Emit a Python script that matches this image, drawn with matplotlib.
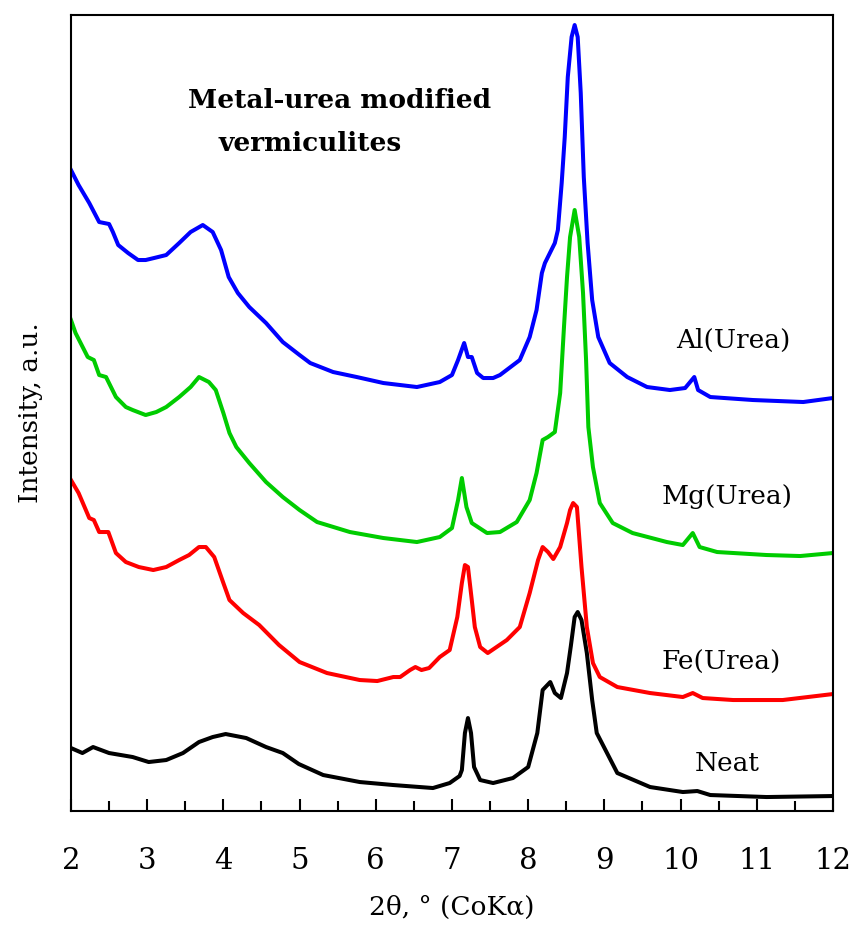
import matplotlib
matplotlib.use('Agg')
import matplotlib.pyplot as plt

plt.rcParams['font.family'] = 'DejaVu Serif'

# 2theta (deg) and intensity (a.u., curves already offset for stacking)
al_2theta = [2.00, 2.10, 2.24, 2.37, 2.50, 2.55, 2.62, 2.75, 2.88, 2.98, 3.09, 3.25, 3.42, 3.57,
             3.73, 3.86, 3.97, 4.07, 4.19, 4.34, 4.56, 4.78, 5.00, 5.14, 5.44, 5.75, 6.10, 6.54,
             6.84, 7.00, 7.08, 7.16, 7.21, 7.26, 7.33, 7.41, 7.54, 7.63, 7.89, 8.02, 8.11, 8.18,
             8.22, 8.35, 8.39, 8.44, 8.48, 8.52, 8.57, 8.61, 8.65, 8.69, 8.73, 8.78, 8.84, 8.92,
             9.07, 9.30, 9.56, 9.86, 10.06, 10.18, 10.23, 10.39, 10.95, 11.61, 12.00]
al_int = [641, 626, 608, 589, 587, 579, 566, 558, 551, 551, 553, 556, 568, 579,
          586, 579, 561, 534, 518, 504, 488, 469, 456, 448, 439, 434, 428, 424,
          429, 436, 451, 468, 454, 454, 438, 433, 433, 436, 451, 474, 501, 538,
          548, 568, 581, 628, 674, 734, 774, 786, 774, 718, 634, 568, 511, 474,
          448, 434, 424, 421, 423, 434, 421, 414, 411, 409, 413]

mg_2theta = [2.00, 2.06, 2.22, 2.30, 2.37, 2.46, 2.59, 2.72, 2.81, 2.98, 3.12, 3.25, 3.42, 3.57,
             3.68, 3.81, 3.90, 4.00, 4.08, 4.17, 4.34, 4.56, 4.78, 5.00, 5.23, 5.66, 6.10, 6.54,
             6.84, 7.00, 7.08, 7.13, 7.19, 7.26, 7.46, 7.63, 7.85, 8.02, 8.11, 8.19, 8.26, 8.35,
             8.42, 8.47, 8.51, 8.55, 8.61, 8.67, 8.72, 8.76, 8.79, 8.85, 8.94, 9.11, 9.37, 9.82,
             10.03, 10.16, 10.25, 10.48, 11.13, 11.57, 12.00]
mg_int = [491, 478, 454, 451, 436, 434, 414, 404, 401, 396, 399, 404, 414, 424,
          434, 429, 421, 398, 378, 364, 348, 329, 314, 301, 289, 279, 273, 269,
          274, 283, 311, 333, 304, 288, 278, 279, 289, 311, 338, 371, 374, 379,
          418, 484, 534, 574, 601, 574, 518, 451, 384, 344, 308, 288, 278, 269,
          266, 278, 264, 259, 256, 255, 258]

fe_2theta = [2.00, 2.10, 2.24, 2.30, 2.37, 2.49, 2.59, 2.72, 2.89, 3.08, 3.25, 3.42, 3.55, 3.68,
             3.77, 3.88, 4.00, 4.08, 4.26, 4.47, 4.73, 5.00, 5.36, 5.79, 6.02, 6.23, 6.32, 6.45,
             6.52, 6.60, 6.70, 6.84, 6.97, 7.07, 7.13, 7.17, 7.21, 7.26, 7.30, 7.37, 7.47, 7.72,
             7.89, 8.02, 8.13, 8.19, 8.26, 8.33, 8.42, 8.51, 8.55, 8.59, 8.64, 8.70, 8.77, 8.85,
             8.94, 9.17, 9.60, 10.03, 10.16, 10.29, 10.69, 11.34, 12.00]
fe_int = [331, 318, 293, 291, 279, 279, 258, 249, 244, 241, 244, 251, 256, 264,
          264, 254, 228, 211, 198, 186, 166, 149, 138, 131, 130, 134, 134, 141,
          144, 141, 143, 154, 161, 194, 228, 246, 244, 211, 184, 164, 158, 171,
          184, 218, 251, 264, 259, 252, 264, 288, 301, 308, 304, 244, 184, 148,
          134, 124, 118, 114, 118, 113, 111, 111, 117]

neat_2theta = [2.00, 2.15, 2.29, 2.50, 2.81, 3.02, 3.25, 3.47, 3.68, 3.86, 4.03, 4.30, 4.56, 4.78,
               4.99, 5.31, 5.79, 6.23, 6.75, 6.97, 7.10, 7.13, 7.17, 7.21, 7.25, 7.29, 7.37, 7.54,
               7.80, 8.00, 8.12, 8.19, 8.29, 8.35, 8.43, 8.51, 8.56, 8.61, 8.65, 8.70, 8.77, 8.84,
               8.90, 9.17, 9.60, 10.03, 10.22, 10.39, 11.13, 12.00]
neat_int = [63, 58, 64, 58, 54, 49, 51, 58, 69, 74, 77, 73, 64, 58,
            47, 36, 29, 26, 23, 28, 35, 41, 78, 93, 78, 44, 31, 28,
            33, 44, 78, 121, 129, 118, 113, 138, 165, 194, 199, 191, 158, 111,
            78, 38, 24, 19, 20, 16, 14, 15]

fig = plt.figure(figsize=(8.51, 9.27), dpi=100)
ax = fig.add_axes([0.0834, 0.1251, 0.8954, 0.8587])

lw = 2.9
ax.plot(neat_2theta, neat_int, color='black', lw=lw, solid_joinstyle='round')
ax.plot(fe_2theta, fe_int, color='#ff0000', lw=lw, solid_joinstyle='round')
ax.plot(mg_2theta, mg_int, color='#00cc00', lw=lw, solid_joinstyle='round')
ax.plot(al_2theta, al_int, color='#0000ff', lw=lw, solid_joinstyle='round')

ax.set_xlim(2, 12)
ax.set_ylim(0, 796)
ax.set_xticks(range(2, 13))
ax.set_xticks([i + 0.5 for i in range(2, 12)], minor=True)
ax.set_yticks([])
ax.tick_params(axis='x', which='major', direction='in', length=9, width=1.5,
               labelsize=21, pad=26)
ax.tick_params(axis='x', which='minor', direction='in', length=7, width=1.5)
for s in ax.spines.values():
    s.set_linewidth(1.5)

ax.set_xlabel('2θ, ° (CoKα)', fontsize=19, labelpad=14)
ax.set_ylabel('Intensity, a.u.', fontsize=19, labelpad=20)

ax.text(10.69, 471, 'Al(Urea)', fontsize=19, ha='center', va='center')
ax.text(10.61, 315, 'Mg(Urea)', fontsize=19, ha='center', va='center')
ax.text(10.53, 149, 'Fe(Urea)', fontsize=19, ha='center', va='center')
ax.text(10.61, 48, 'Neat', fontsize=19, ha='center', va='center')

ax.text(5.52, 711, 'Metal-urea modified', fontsize=19, fontweight='bold',
        ha='center', va='center')
ax.text(5.14, 668, 'vermiculites', fontsize=19, fontweight='bold',
        ha='center', va='center')

fig.savefig('out.png', dpi=100)
